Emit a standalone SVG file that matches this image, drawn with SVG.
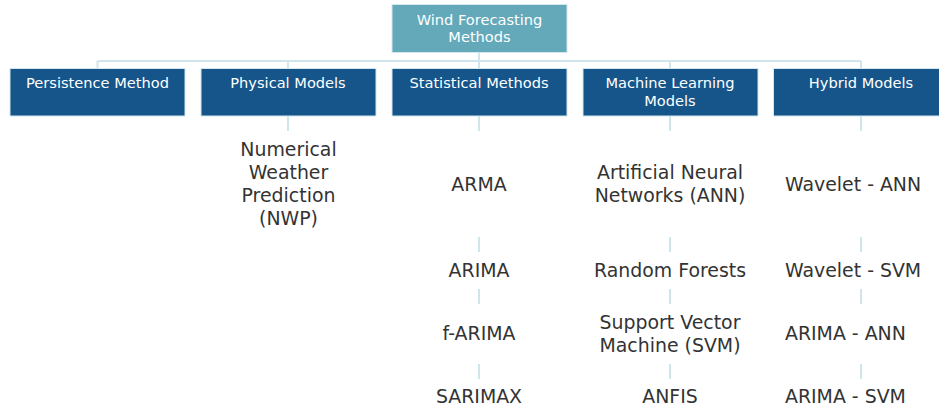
<svg xmlns="http://www.w3.org/2000/svg" width="939" height="412" viewBox="0 0 939 412">
<style>
.root{fill:#63a9ba;stroke:#d4e7ee;stroke-width:1}
.box{fill:#15558a;stroke:#d4e7ee;stroke-width:1}
.bt{font-family:"DejaVu Sans","Open Sans",sans-serif;font-size:14.6px;fill:#ffffff;text-anchor:middle}
.it{font-family:"DejaVu Sans","Open Sans",sans-serif;font-size:18.9px;fill:#333333;text-anchor:middle}
.hl{text-anchor:start}
.ln{stroke:#cfe4ec;stroke-width:2;fill:none}
</style>
<rect width="939" height="412" fill="#ffffff"/>
<g id="connectors">
<path class="ln" d="M479 52V61M97.5 61H861M97.5 61V68M288 61V68M479 61V68M670 61V68M861 61V68"/>
<path class="ln" d="M288 116V131M479 116V131M670 116V131M861 116V131"/>
<path class="ln" d="M479 237V252M479 289V304M479 364V379"/>
<path class="ln" d="M670 237V252M670 289V304M670 364V379"/>
<path class="ln" d="M861 237V252M861 289V304M861 364V379"/>
</g>
<g id="root"><rect class="root" x="392" y="4.5" width="175" height="48"/><text class="bt" x="479.5" y="24.5">Wind Forecasting</text><text class="bt" x="479.5" y="42">Methods</text></g>
<g id="persistence"><rect class="box" x="10" y="68.5" width="175" height="47.5"/><text class="bt" x="97.5" y="88">Persistence Method</text></g>
<g id="physical"><rect class="box" x="201" y="68.5" width="175" height="47.5"/><text class="bt" x="288" y="88">Physical Models</text></g>
<g id="statistical"><rect class="box" x="392" y="68.5" width="175" height="47.5"/><text class="bt" x="479" y="88">Statistical Methods</text></g>
<g id="ml"><rect class="box" x="583" y="68.5" width="175" height="47.5"/><text class="bt" x="670" y="88">Machine Learning</text><text class="bt" x="670" y="105.5">Models</text></g>
<g id="hybrid"><rect class="box" x="773.5" y="68.5" width="175" height="47.5"/><text class="bt" x="861" y="88">Hybrid Models</text></g>
<g id="nwp"><text class="it" x="288.5" y="155.5">Numerical</text><text class="it" x="288.5" y="178.5">Weather</text><text class="it" x="288.5" y="201.5">Prediction</text><text class="it" x="288.5" y="224.5">(NWP)</text></g>
<g id="arma"><text class="it" x="479" y="190.5">ARMA</text></g>
<g id="arima"><text class="it" x="479" y="276.5">ARIMA</text></g>
<g id="farima"><text class="it" x="479" y="339.5">f-ARIMA</text></g>
<g id="sarimax"><text class="it" x="479" y="402.5">SARIMAX</text></g>
<g id="ann"><text class="it" x="670" y="178.5">Artificial Neural</text><text class="it" x="670" y="201.5">Networks (ANN)</text></g>
<g id="rf"><text class="it" x="670" y="276.5">Random Forests</text></g>
<g id="svm"><text class="it" x="670" y="328.5">Support Vector</text><text class="it" x="670" y="351.5">Machine (SVM)</text></g>
<g id="anfis"><text class="it" x="670" y="402.5">ANFIS</text></g>
<g id="wann"><text class="it hl" x="785" y="190.5">Wavelet - ANN</text></g>
<g id="wsvm"><text class="it hl" x="785" y="276.5">Wavelet - SVM</text></g>
<g id="aann"><text class="it hl" x="785" y="339.5">ARIMA - ANN</text></g>
<g id="asvm"><text class="it hl" x="785" y="402.5">ARIMA - SVM</text></g>
</svg>
